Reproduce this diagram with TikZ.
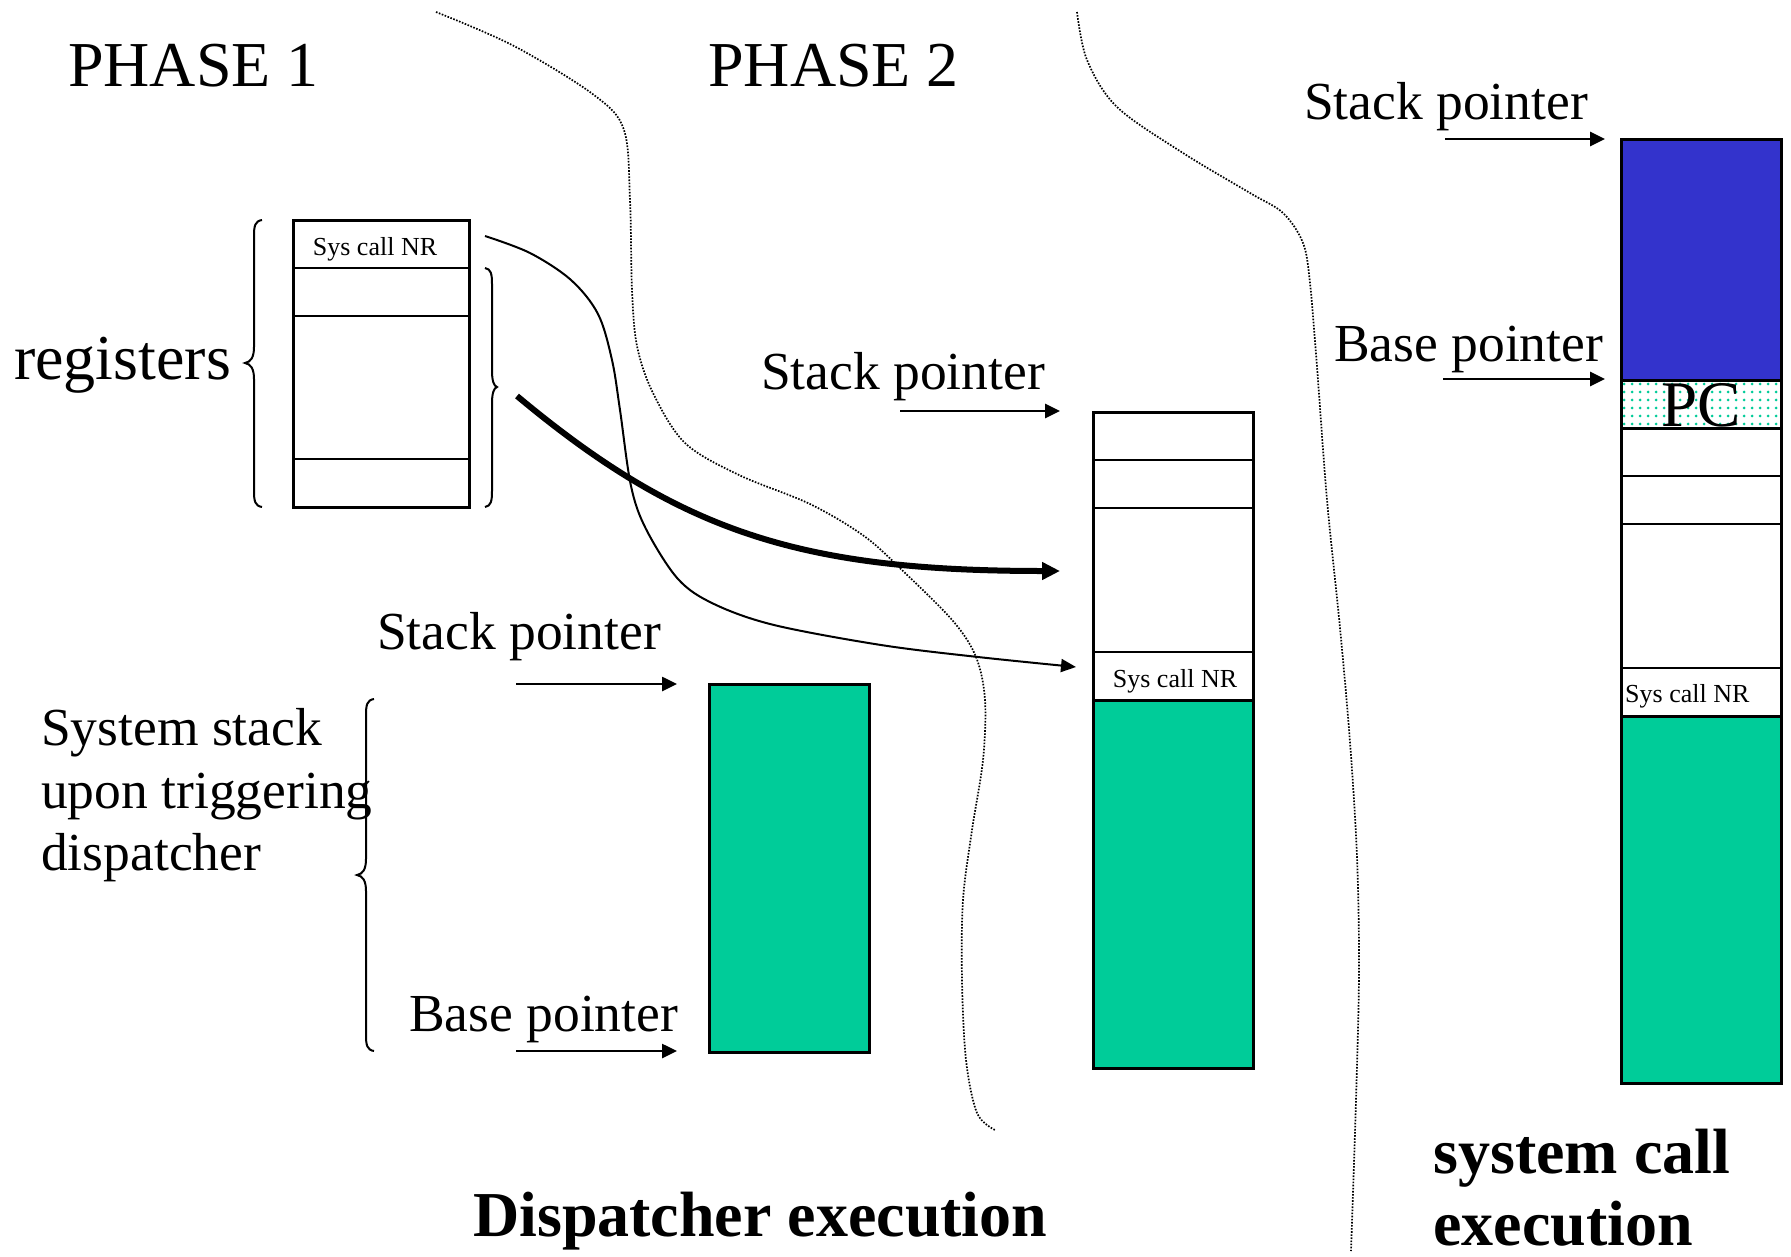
\documentclass[tikz,border=0pt]{standalone}
\usepackage{fontspec}
\setmainfont{Liberation Serif}
\usetikzlibrary{arrows.meta,patterns.meta}
\definecolor{sgreen}{RGB}{0,204,153}
\definecolor{sblue}{RGB}{51,51,204}
\begin{document}
\begin{tikzpicture}[x=1pt,y=-1pt,
  big/.style={font=\fontsize{64}{70}\selectfont, inner sep=0pt, anchor=base west},
  mid/.style={font=\fontsize{53.5}{62}\selectfont, inner sep=0pt, anchor=base west},
  small/.style={font=\fontsize{26}{30}\selectfont, inner sep=0pt, anchor=base},
  boldtxt/.style={font=\fontsize{64}{72}\selectfont\bfseries, inner sep=0pt, anchor=base west},
  boxline/.style={line width=3pt},
  rowline/.style={line width=2.4pt},
  ptr/.style={line width=2.6pt, -{Triangle[length=15pt,width=14pt]}},
  thincurve/.style={line width=2pt},
  dotline/.style={line width=1.7pt, dash pattern=on 1.6pt off 1.5pt},
  bracestyle/.style={line width=2pt},
]
\fill[white] (0,0) rectangle (1791,1256);
\useasboundingbox (0,0) rectangle (1791,1256);

% ---------- texts ----------
\node[big] (ph1) at (68,86) {PHASE 1};
\node[big] (ph2) at (708,86) {PHASE 2};
\node[big] (reg) at (14,379) {registers};
\node[mid] (sys1) at (41,745) {System stack};
\node[mid] (sys2) at (41,808) {upon triggering};
\node[mid] (sys3) at (41,870) {dispatcher};
\node[mid] (sp1) at (377,649) {Stack pointer};
\node[mid] (bp1) at (409,1031) {Base pointer};
\node[mid] (sp2) at (761,389) {Stack pointer};
\node[mid] (sp3) at (1304,119) {Stack pointer};
\node[mid] (bp3) at (1334,361) {Base pointer};
\node[boldtxt] (dexec) at (473,1236) {Dispatcher execution};
\node[boldtxt] (sc1) at (1433,1173) {system call};
\node[boldtxt] (sc2) at (1433,1245) {execution};

% ---------- registers box ----------
\draw[boxline] (293,220) rectangle (469,507);
\draw[rowline] (293,268) -- (469,268);
\draw[rowline] (293,316) -- (469,316);
\draw[rowline] (293,459) -- (469,459);
\node[small] (rsys) at (375,255) {Sys call NR};

% braces
\draw[bracestyle] (262,220) .. controls (255,221) and (254,226) .. (254,236) -- (254,347)
  .. controls (254,357) and (251,362) .. (245,363) .. controls (251,364) and (254,369) .. (254,379)
  -- (254,491) .. controls (254,501) and (255,506) .. (262,507);
\draw[bracestyle] (485,268) .. controls (491,269) and (492,274) .. (492,284) -- (492,371)
  .. controls (492,381) and (494,386) .. (497,387) .. controls (494,388) and (492,393) .. (492,403)
  -- (492,491) .. controls (492,501) and (491,506) .. (485,507);
\draw[bracestyle] (374,699) .. controls (367,700) and (366,705) .. (366,715) -- (366,859)
  .. controls (366,869) and (363,874) .. (357,875) .. controls (363,876) and (366,881) .. (366,891)
  -- (366,1035) .. controls (366,1045) and (367,1050) .. (374,1051);

% ---------- phase 1 stack ----------
\draw[boxline, fill=sgreen] (709,684) rectangle (869,1052);

% ---------- phase 2 stack ----------
\draw[boxline, fill=sgreen] (1093,700) rectangle (1253,1068);
\draw[boxline] (1093,412) rectangle (1253,700);
\draw[rowline] (1093,460) -- (1253,460);
\draw[rowline] (1093,508) -- (1253,508);
\draw[rowline] (1093,652) -- (1253,652);
\node[small] (msys) at (1175,687) {Sys call NR};

% ---------- phase 3 stack ----------
\draw[boxline, fill=sblue] (1621,139) rectangle (1781,380);
\fill[white] (1621,380) rectangle (1781,428);
\fill[pattern={Dots[radius=1.5pt, distance=8pt]}, pattern color=sgreen] (1621,380) rectangle (1781,428);
\node[font=\fontsize{65}{70}\selectfont, inner sep=0pt, anchor=base] (pc) at (1701,426) {PC};
\draw[boxline] (1621,380) rectangle (1781,428);
\draw[boxline, fill=sgreen] (1621,716) rectangle (1781,1083);
\draw[boxline] (1621,428) rectangle (1781,716);
\draw[rowline] (1621,476) -- (1781,476);
\draw[rowline] (1621,524) -- (1781,524);
\draw[rowline] (1621,668) -- (1781,668);
\node[small, anchor=base west] (rsys3) at (1625,702) {Sys call NR};

% ---------- pointer arrows ----------
\coordinate (a1s) at (516,684);  \coordinate (a1e) at (677,684);
\coordinate (b1s) at (516,1051); \coordinate (b1e) at (677,1051);
\coordinate (a2s) at (900,411);  \coordinate (a2e) at (1060,411);
\coordinate (a3s) at (1445,139); \coordinate (a3e) at (1605,139);
\coordinate (b3s) at (1443,379); \coordinate (b3e) at (1605,379);
\draw[ptr] (a1s) -- (a1e);
\draw[ptr] (b1s) -- (b1e);
\draw[ptr] (a2s) -- (a2e);
\draw[ptr] (a3s) -- (a3e);
\draw[ptr] (b3s) -- (b3e);

% ---------- curved arrows ----------
\coordinate (tks) at (517,396); \coordinate (tke) at (1060,571);
\draw[line width=6pt, -{Triangle[length=18pt,width=17pt]}] (tks) .. controls (680,532) and (800,571) .. (tke);
\draw[thincurve, -{Triangle[length=15pt,width=13pt]}] plot[smooth, tension=0.55] coordinates
  {(485,236) (530,253) (571,280) (598,314) (612,360) (620,410) (631,486) (646,529) (678,579) (714,604) (774,625) (881,645) (978,657) (1076,667)};

% ---------- dotted separators ----------
\draw[dotline] plot[smooth, tension=0.55] coordinates
  {(436,12) (514,46) (594,95) (624,130) (630,200) (632,290) (637,346) (653,393) (685,443) (739,475) (810,504) (864,536) (903,571) (953,621) (976,657) (985,700) (983,760) (972,830) (963,900) (962,980) (966,1060) (977,1113) (995,1130)};
\draw[dotline] plot[smooth, tension=0.55] coordinates
  {(1077,12) (1087,60) (1117,107) (1183,153) (1250,193) (1283,213) (1303,243) (1310,283) (1317,367) (1327,500) (1340,628) (1350,742) (1357,857) (1359,971) (1356,1100) (1351,1251)};
\end{tikzpicture}
\end{document}
